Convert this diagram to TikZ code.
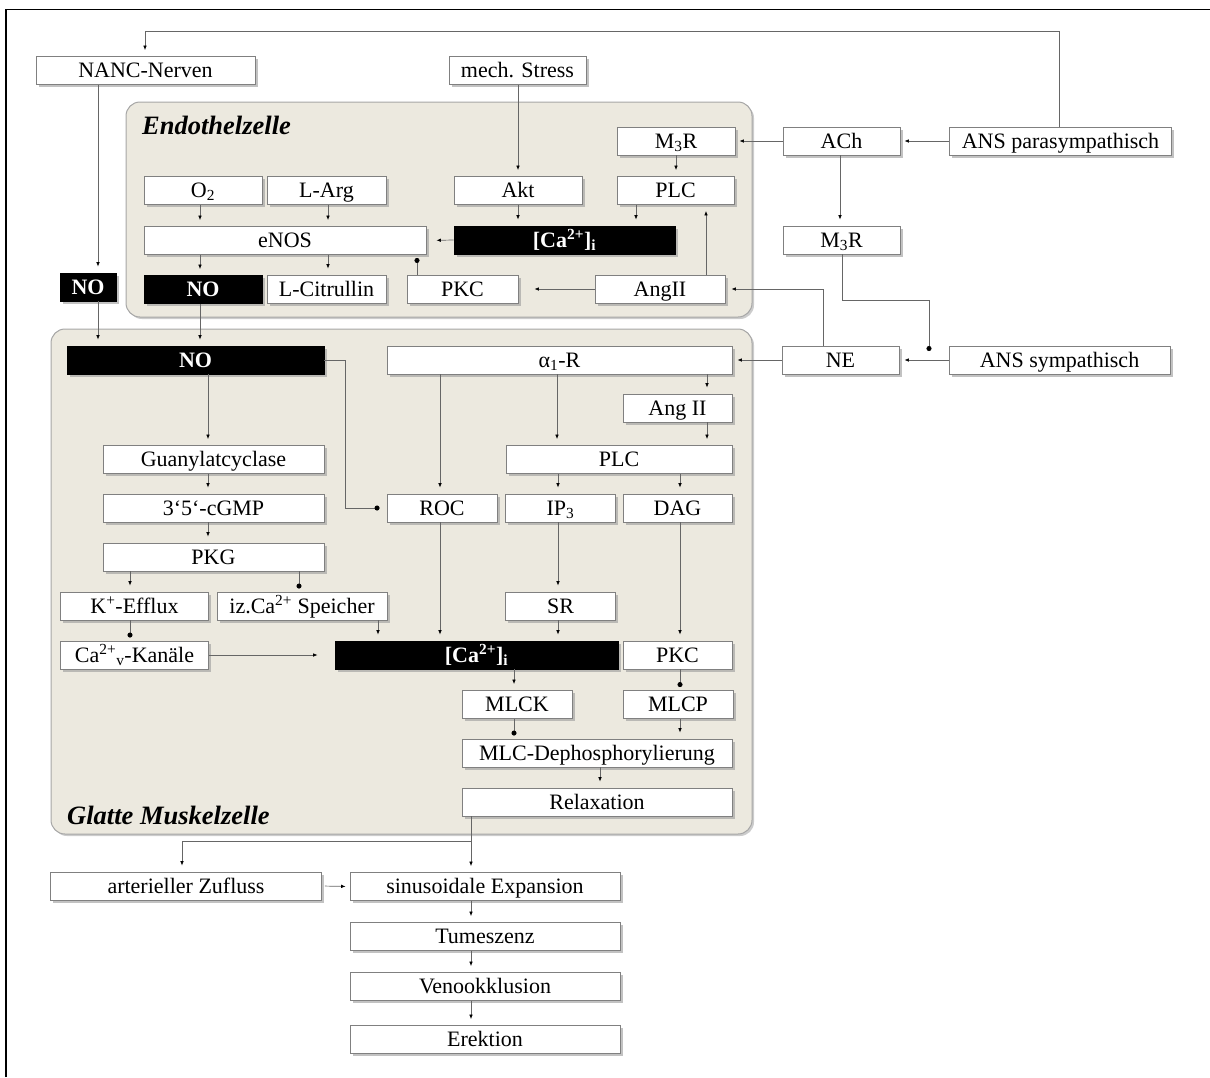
\documentclass[tikz,border=0pt]{standalone}
\usepackage{fontspec}
\setmainfont{Liberation Serif}
\usetikzlibrary{arrows.meta,shadows}
\newcommand\fs{\fontsize{22}{25}\selectfont}
\definecolor{cellbg}{RGB}{236,233,223}
\begin{document}
\begin{tikzpicture}[x=1pt,y=-1pt,
  box/.style={draw=black!50, fill=white, line width=0.9pt, inner sep=0pt,
    minimum height=28pt, text height=14.5pt, text depth=0pt, font=\fs,
    drop shadow={shadow xshift=2.5pt, shadow yshift=-2.5pt, fill=black!40, opacity=0.6}},
  blk/.style={box, fill=black, draw=black, text=white, font=\fs\bfseries},
  lin/.style={draw=black!60, line width=0.7pt},
  arr/.style={lin, -{Latex[length=4.5pt,width=3.6pt,color=black]}, shorten >=6pt},
  inh/.style={lin, -{Circle[length=5pt,color=black]}, shorten >=3pt},
  panel/.style={fill=cellbg, draw=black!35, line width=1pt, rounded corners=14pt},
  cellname/.style={anchor=west, inner sep=0pt, font=\fontsize{26.5}{30}\selectfont\bfseries\itshape}
]
\useasboundingbox (0,0) rectangle (1210,1077);
% frame
\draw[line width=1.5pt] (6,1077) -- (6,9.5) -- (1210,9.5);

% panels
\fill[black!20] (128,104) [rounded corners=14pt] rectangle (754,319);
\draw[panel] (126,102) rectangle (752,317);
\fill[black!20] (53,331) [rounded corners=14pt] rectangle (754,836);
\draw[panel] (51,329) rectangle (752,834);
\node[cellname] (lblE) at (142,125) {Endothelzelle};
\node[cellname] (lblG) at (67,815) {Glatte Muskelzelle};

% nodes
\node[box, minimum width=219pt] (NANC) at (145.5,70.5) {NANC-Nerven};
\node[box, minimum width=137pt] (mech) at (517.5,70.5) {mech. Stress};
\node[box, minimum width=118pt] (M3Re) at (676,141) {M\textsubscript{3}R};
\node[box, minimum width=117pt] (ACh) at (841.5,141) {ACh};
\node[box, minimum width=222pt] (ANSp) at (1060.5,141) {ANS parasympathisch};
\node[box, minimum width=118pt] (O2) at (203,190.5) {O\textsubscript{2}};
\node[box, minimum width=119pt] (LArg) at (326.5,190.5) {L-Arg};
\node[box, minimum width=128pt] (Akt) at (518,190.5) {Akt};
\node[box, minimum width=117pt] (PLCe) at (675.5,190.5) {PLC};
\node[box, minimum width=282pt] (eNOS) at (285,240.5) {eNOS};
\node[blk, minimum width=221pt] (Cae) at (564.5,240) {[Ca\textsuperscript{2+}]\textsubscript{i}};
\node[box, minimum width=117pt] (M3Ro) at (841.5,240) {M\textsubscript{3}R};
\node[blk, minimum width=56pt] (NOl) at (88,287) {NO};
\node[blk, minimum width=118pt] (NOe) at (203,289.5) {NO};
\node[box, minimum width=119pt] (LCit) at (326.5,289) {L-Citrullin};
\node[box, minimum width=111pt] (PKCe) at (462.5,289) {PKC};
\node[box, minimum width=130pt] (AngIIe) at (660,289) {AngII};

\node[blk, minimum width=257pt] (NOs) at (195.5,360) {NO};
\node[box, minimum width=345pt] (alpha) at (559.5,360) {α\textsubscript{1}-R};
\node[box, minimum width=117pt] (NE) at (840.5,360) {NE};
\node[box, minimum width=221pt] (ANSs) at (1059.5,360) {ANS sympathisch};
\node[box, minimum width=109pt] (AngIIs) at (677.5,408) {Ang II};
\node[box, minimum width=221pt] (GC) at (213.5,459.5) {Guanylatcyclase};
\node[box, minimum width=226pt] (PLCs) at (619,459.5) {PLC};
\node[box, minimum width=221pt] (cGMP) at (213.5,508) {3‘5‘-cGMP};
\node[box, minimum width=110pt] (ROC) at (442,508) {ROC};
\node[box, minimum width=110pt] (IP3) at (560.5,508) {IP\textsubscript{3}};
\node[box, minimum width=109pt] (DAG) at (677.5,508) {DAG};
\node[box, minimum width=221pt] (PKG) at (213.5,557) {PKG};
\node[box, minimum width=148pt] (Kef) at (134.5,606) {K\textsuperscript{+}-Efflux};
\node[box, minimum width=170pt] (iz) at (302,606) {iz.Ca\textsuperscript{2+} Speicher};
\node[box, minimum width=110pt] (SR) at (560.5,606) {SR};
\node[box, minimum width=148pt] (CaV) at (134.5,655) {Ca\textsuperscript{2+}\textsubscript{v}-Kanäle};
\node[blk, minimum width=283pt] (CaS) at (476.5,655) {[Ca\textsuperscript{2+}]\textsubscript{i}};
\node[box, minimum width=109pt] (PKCs) at (677.5,655) {PKC};
\node[box, minimum width=110pt] (MLCK) at (517,704.5) {MLCK};
\node[box, minimum width=110pt] (MLCP) at (678,704.5) {MLCP};
\node[box, minimum width=270pt] (MLCD) at (597,753) {MLC-Dephosphorylierung};
\node[box, minimum width=270pt] (Relax) at (597,802) {Relaxation};
\node[box, minimum width=271pt] (Art) at (186,886) {arterieller Zufluss};
\node[box, minimum width=270pt] (Sin) at (485,886.5) {sinusoidale Expansion};
\node[box, minimum width=270pt] (Tum) at (485,936.5) {Tumeszenz};
\node[box, minimum width=270pt] (Ven) at (485,986.5) {Venookklusion};
\node[box, minimum width=270pt] (Ere) at (485,1039.5) {Erektion};

% connectors: top region
\coordinate (tp) at (1059,31);
\draw[arr] (ANSp.north -| tp) -- (tp) -| (NANC.north -| 145,0);
\draw[arr] (NANC.south -| 98,0) -- (NOl.north -| 98,0);
\draw[arr] (NOl.south -| 98,0) -- (NOs.north -| 98,0);
\draw[arr] (NOe.south -| 200,0) -- (NOs.north -| 200,0);
\draw[arr] (mech.south -| 518,0) -- (Akt.north -| 518,0);
\draw[arr] (O2.south -| 200,0) -- (eNOS.north -| 200,0);
\draw[arr] (LArg.south -| 328,0) -- (eNOS.north -| 328,0);
\draw[arr] (Akt.south -| 518,0) -- (Cae.north -| 518,0);
\draw[arr] (M3Re.south -| 676,0) -- (PLCe.north -| 676,0);
\draw[arr] (PLCe.south -| 636,0) -- (Cae.north -| 636,0);
\draw[arr, shorten >=10pt] (Cae.west) -- (eNOS.east);
\draw[arr] (eNOS.south -| 200,0) -- (NOe.north -| 200,0);
\draw[arr] (eNOS.south -| 328,0) -- (LCit.north -| 328,0);
\draw[inh] (PKCe.north -| 417,0) -- (eNOS.south -| 417,0);
\draw[arr, shorten >=16pt] (AngIIe.west) -- (PKCe.east);
\draw[arr] (AngIIe.north -| 706,0) -- (PLCe.south -| 706,0);
\draw[arr, shorten >=4pt] (ACh.west) -- (M3Re.east);
\draw[arr, shorten >=4pt] (ANSp.west) -- (ACh.east);
\draw[arr] (ACh.south -| 840,0) -- (M3Ro.north -| 840,0);
\coordinate (ib) at (929,351);
\draw[inh, shorten >=0pt] (M3Ro.south -| 842,0) -- (842,300) -| (ib);
\draw[arr, shorten >=5pt] (ANSs.west) -- (NE.east);
\draw[arr, shorten >=5pt] (NE.west) -- (alpha.east);
\draw[arr] (NE.north -| 823,0) |- (AngIIe.east);

% smooth muscle cell
\draw[inh, shorten >=7pt] (NOs.east) -- (345,360) |- (ROC.west);
\draw[arr] (NOs.south -| 208,0) -- (GC.north -| 208,0);
\draw[arr] (GC.south -| 208,0) -- (cGMP.north -| 208,0);
\draw[arr] (cGMP.south -| 208,0) -- (PKG.north -| 208,0);
\draw[arr] (PKG.south -| 130,0) -- (Kef.north -| 130,0);
\draw[inh] (PKG.south -| 299,0) -- (iz.north -| 299,0);
\draw[inh] (Kef.south -| 130,0) -- (CaV.north -| 130,0);
\draw[arr] (iz.south -| 378,0) -- (CaS.north -| 378,0);
\draw[arr, shorten >=17pt] (CaV.east) -- (CaS.west);
\draw[arr] (alpha.south -| 440,0) -- (ROC.north -| 440,0);
\draw[arr] (alpha.south -| 557,0) -- (PLCs.north -| 557,0);
\draw[arr] (alpha.south -| 707,0) -- (AngIIs.north -| 707,0);
\draw[arr] (AngIIs.south -| 707,0) -- (PLCs.north -| 707,0);
\draw[arr] (PLCs.south -| 558,0) -- (IP3.north -| 558,0);
\draw[arr] (PLCs.south -| 680,0) -- (DAG.north -| 680,0);
\draw[arr] (ROC.south -| 440,0) -- (CaS.north -| 440,0);
\draw[arr] (IP3.south -| 558,0) -- (SR.north -| 558,0);
\draw[arr] (SR.south -| 558,0) -- (CaS.north -| 558,0);
\draw[arr] (DAG.south -| 680,0) -- (PKCs.north -| 680,0);
\draw[arr] (CaS.south -| 514,0) -- (MLCK.north -| 514,0);
\draw[inh] (PKCs.south -| 680,0) -- (MLCP.north -| 680,0);
\draw[inh] (MLCK.south -| 514,0) -- (MLCD.north -| 514,0);
\draw[arr] (MLCP.south -| 680,0) -- (MLCD.north -| 680,0);
\draw[arr] (MLCD.south -| 600,0) -- (Relax.north -| 600,0);

% bottom
\coordinate (sp) at (471,841);
\draw[lin] (Relax.south -| sp) -- (sp);
\draw[arr] (sp) -| (Art.north -| 182,0);
\draw[arr] (sp) -- (Sin.north -| sp);
\draw[arr, shorten >=4pt, shorten <=3pt] (Art.east) -- (Sin.west);
\draw[arr] (Sin.south -| 471,0) -- (Tum.north -| 471,0);
\draw[arr] (Tum.south -| 471,0) -- (Ven.north -| 471,0);
\draw[arr] (Ven.south -| 471,0) -- (Ere.north -| 471,0);
\end{tikzpicture}
\end{document}
